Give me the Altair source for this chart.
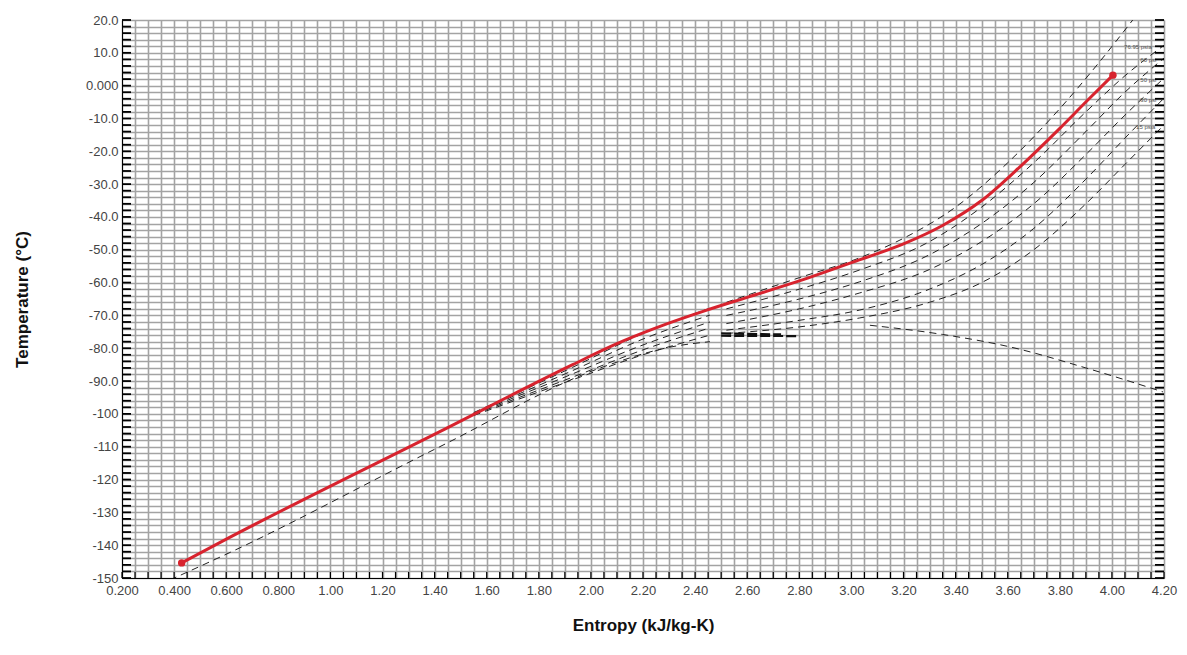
import altair as alt
import pandas as pd

# ---------------- data ----------------
red_x = [0.429, 0.595, 1.42, 1.93, 2.1, 2.25, 2.445, 2.6, 2.8, 3.03, 3.2, 3.35, 3.5, 3.65, 3.8, 3.9, 4.004]
red_y = [-145.4, -138.4, -105.4, -85.0, -78.6, -73.8, -68.4, -64.5, -59.5, -53.1, -48.2, -42.6, -35.0, -24.5, -13.0, -5.0, 3.2]

bot_x = [0.384, 0.634, 1.42, 2.05, 2.315, 2.457]
bot_y = [-150.6, -141.5, -110.0, -85.6, -79.5, -78.0]

b1_x = [1.55, 1.93, 2.2, 2.457]
b1_y = [-99.6, -85.8, -75.5, -67.8]
b2_x = [1.55, 1.93, 2.2, 2.457]
b2_y = [-99.8, -86.8, -77.2, -69.9]
b3_x = [1.55, 1.93, 2.2, 2.457]
b3_y = [-100.0, -87.8, -79.0, -72.0]
b4_x = [1.55, 1.93, 2.2, 2.457]
b4_y = [-100.2, -88.8, -80.5, -73.8]
b5_x = [1.55, 1.93, 2.2, 2.457]
b5_y = [-100.5, -89.6, -82.0, -76.0]

l1_x = [2.52, 2.8, 3.03, 3.2, 3.4, 3.6, 3.8, 3.95, 4.08]
l1_y = [-66.0, -58.5, -52.5, -46.5, -37.0, -23.5, -7.0, 7.0, 20.0]
l2_x = [2.52, 2.8, 3.03, 3.3, 3.5, 3.7, 3.9, 4.05, 4.2]
l2_y = [-68.0, -62.0, -56.2, -47.5, -37.0, -23.5, -8.0, 3.0, 12.3]
l3_x = [2.52, 2.8, 3.03, 3.3, 3.5, 3.7, 3.9, 4.05, 4.2]
l3_y = [-70.0, -65.0, -59.8, -51.5, -42.0, -29.5, -14.0, -2.0, 8.4]
l4_x = [2.52, 2.8, 3.03, 3.3, 3.5, 3.7, 3.9, 4.05, 4.2]
l4_y = [-72.5, -68.0, -63.2, -56.0, -47.5, -36.0, -21.0, -9.0, 2.3]
l5_x = [2.52, 2.8, 3.03, 3.3, 3.5, 3.7, 3.9, 4.05, 4.2]
l5_y = [-74.5, -71.5, -68.4, -62.0, -54.5, -43.5, -28.5, -16.0, -3.8]
l6_x = [2.52, 2.8, 3.03, 3.3, 3.5, 3.7, 3.9, 4.05, 4.2]
l6_y = [-75.5, -73.5, -70.8, -66.0, -60.0, -50.0, -36.0, -24.0, -12.0]

desc_x = [3.071, 3.35, 3.609, 3.9, 4.196]
desc_y = [-73.0, -75.8, -79.6, -86.0, -93.3]

thick_x = [2.5, 2.73]
thick_y = [-75.5, -75.8]
thick2_x = [2.5, 2.8]
thick2_y = [-76.2, -76.3]

iso_labels = ["76.95 psia", "60 psi", "50 psi", "30 psi", "15 psia"]
iso_lab_x = [4.1, 4.14, 4.14, 4.14, 4.13]
iso_lab_y = [11.8, 7.8, 1.7, -4.4, -12.6]

x_grid = [round(0.2 + 0.05 * i, 2) for i in range(81)]
x_tick_labels = ["0.200", "0.400", "0.600", "0.800", "1.00", "1.20", "1.40", "1.60",
                 "1.80", "2.00", "2.20", "2.40", "2.60", "2.80", "3.00", "3.20",
                 "3.40", "3.60", "3.80", "4.00", "4.20"]
y_grid = [-150 + 2 * i for i in range(86)]
y_tick_labels = ["-150", "-140", "-130", "-120", "-110", "-100", "-90.0", "-80.0",
                 "-70.0", "-60.0", "-50.0", "-40.0", "-30.0", "-20.0", "-10.0",
                 "0.000", "10.0", "20.0"]

# ---------------- tables ----------------
dash_series = {
    "bot": (bot_x, bot_y), "b1": (b1_x, b1_y), "b2": (b2_x, b2_y), "b3": (b3_x, b3_y),
    "b4": (b4_x, b4_y), "b5": (b5_x, b5_y), "l1": (l1_x, l1_y), "l2": (l2_x, l2_y),
    "l3": (l3_x, l3_y), "l4": (l4_x, l4_y), "l5": (l5_x, l5_y), "l6": (l6_x, l6_y),
    "desc": (desc_x, desc_y),
}
rows = []
for name, (xs, ys) in dash_series.items():
    for i, (a, b) in enumerate(zip(xs, ys)):
        rows.append({"s": name, "i": i, "x": a, "y": b})
dash_df = pd.DataFrame(rows)

thick_rows = []
for name, (xs, ys) in {"t1": (thick_x, thick_y), "t2": (thick2_x, thick2_y)}.items():
    for i, (a, b) in enumerate(zip(xs, ys)):
        thick_rows.append({"s": name, "i": i, "x": a, "y": b})
thick_df = pd.DataFrame(thick_rows)

red_df = pd.DataFrame({"x": red_x, "y": red_y, "i": list(range(len(red_x)))})
red_end_df = pd.DataFrame({"x": [red_x[0], red_x[-1]], "y": [red_y[0], red_y[-1]]})
lab_df = pd.DataFrame({"x": iso_lab_x, "y": iso_lab_y, "t": iso_labels})
xg_df = pd.DataFrame({"x": x_grid})
yg_df = pd.DataFrame({"y": y_grid})

x_lab_arr = [x_tick_labels[i // 4] if i % 4 == 0 else "" for i in range(len(x_grid))]
y_lab_arr = [y_tick_labels[i // 5] if i % 5 == 0 else "" for i in range(len(y_grid))]
x_expr = "[" + ",".join("'%s'" % s for s in x_lab_arr) + "][round(datum.value*20)-4]"
y_expr = "[" + ",".join("'%s'" % s for s in y_lab_arr) + "][round((datum.value+150)/2)]"

W, H = 1042, 558
FONT = "Liberation Sans"

xscale = alt.Scale(domain=[0.2, 4.2], nice=False, zero=False)
yscale = alt.Scale(domain=[-150, 20], nice=False, zero=False)

x_axis = alt.Axis(values=x_grid, labelExpr=x_expr, grid=True, gridColor="#a3a3a3",
                  gridWidth=1.6, ticks=False, domain=True, domainColor="#000",
                  labelOverlap=False, labelFlush=False, labelFont=FONT, labelFontSize=13,
                  labelColor="#444", labelPadding=6, title="Entropy (kJ/kg-K)",
                  titleFont=FONT, titleFontSize=17, titleFontWeight="bold",
                  titleColor="#111", titleY=56, titleBaseline="bottom")
y_axis = alt.Axis(values=y_grid, labelExpr=y_expr, grid=True, gridColor="#a3a3a3",
                  gridWidth=1.6, ticks=False, domain=True, domainColor="#000",
                  labelOverlap=False, labelFlush=False, labelFont=FONT, labelFontSize=13,
                  labelColor="#444", labelPadding=4, title="Temperature (°C)",
                  titleFont=FONT, titleFontSize=17, titleFontWeight="bold",
                  titleColor="#111", titleX=-100, titleY=H / 2, titleBaseline="middle")

X = alt.X("x:Q", scale=xscale, axis=x_axis)
Y = alt.Y("y:Q", scale=yscale, axis=y_axis)

left_ticks = alt.Chart(yg_df).mark_rule(color="#000", strokeWidth=1.8).encode(
    y=Y, x=alt.value(0), x2=alt.value(9))
right_ticks = alt.Chart(yg_df).mark_rule(color="#000", strokeWidth=1.8).encode(
    y=Y, x=alt.value(W - 9), x2=alt.value(W))
bottom_ticks = alt.Chart(xg_df).mark_rule(color="#000", strokeWidth=1.2).encode(
    x=X, y=alt.value(H - 6), y2=alt.value(H))

dashed = alt.Chart(dash_df).mark_line(color="#222", strokeWidth=1, strokeDash=[7, 5],
                                      interpolate="monotone", clip=True).encode(
    x=X, y=Y, detail="s:N", order="i:Q")
thick = alt.Chart(thick_df).mark_line(color="#111", strokeWidth=2.2, strokeDash=[10, 3]).encode(
    x=X, y=Y, detail="s:N", order="i:Q")

red = alt.Chart(red_df).mark_line(color="#d8232e", strokeWidth=3, interpolate="monotone").encode(
    x=X, y=Y, order="i:Q")
red_pts = alt.Chart(red_end_df).mark_circle(color="#d8232e", size=55, opacity=1).encode(
    x=X, y=Y)

labels = alt.Chart(lab_df).mark_text(font=FONT, fontSize=6, color="#555", align="center").encode(
    x=X, y=Y, text="t:N")

chart = alt.layer(dashed, thick, red, red_pts, labels,
                  left_ticks, right_ticks, bottom_ticks).properties(
    width=W, height=H,
    autosize=alt.AutoSizeParams(type="none"),
    padding={"left": 114, "top": 12, "right": 15, "bottom": 58},
).configure_view(stroke="#000", strokeWidth=1).configure(background="white")

chart.save("out.html", embed_options={"renderer": "svg", "actions": False})
